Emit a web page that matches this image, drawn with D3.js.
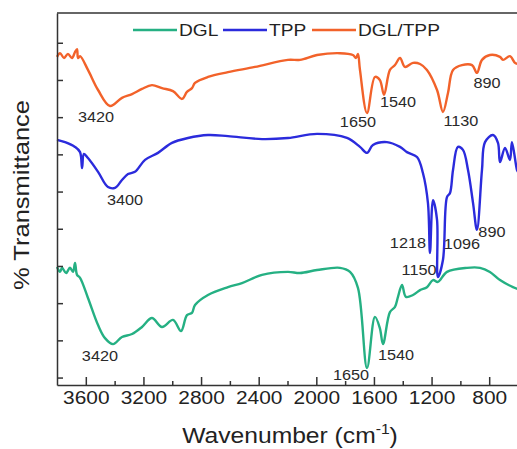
<!DOCTYPE html>
<html>
<head>
<meta charset="utf-8">
<script src="https://cdn.jsdelivr.net/npm/d3@7"></script>
<style>
  body { margin: 0; background: #fff; }
  text { font-family: "Liberation Sans", Arial, sans-serif; }
</style>
</head>
<body>
<div id="container"></div>
<script>
// wavenumber (cm-1), relative transmittance (arbitrary, offset)
const dgl = [
  [3800,31.7],[3779,30.4],[3765,31.5],[3737,30.1],[3710,31.5],[3689,30.4],[3675,32.8],[3661,29.6],
  [3640,28.8],[3585,23.4],[3515,16.1],[3467,12.6],[3411,11.0],[3349,12.9],[3279,13.7],[3210,15.6],
  [3141,18.0],[3071,15.6],[2995,17.5],[2939,14.5],[2898,18.8],[2863,19.4],[2842,21.5],[2752,24.2],
  [2613,26.3],[2516,27.4],[2377,29.6],[2197,30.4],[2113,30.1],[1995,30.9],[1836,31.5],[1766,30.4],
  [1711,26.1],[1648,4.6],[1593,18.3],[1559,15.3],[1537,11.0],[1489,19.6],[1454,21.0],[1433,23.7],
  [1405,26.9],[1378,23.7],[1329,24.2],[1280,25.5],[1232,26.3],[1190,28.2],[1156,27.7],[1093,30.4],
  [954,31.5],[864,31.5],[795,30.4],[725,28.2],[635,26.3],[600,25.8]
];
const tpp = [
  [3800,65.9],[3744,65.3],[3675,64.0],[3640,62.6],[3626,58.3],[3613,62.1],[3585,61.0],[3515,57.3],
  [3446,53.2],[3397,53.0],[3349,55.1],[3307,56.7],[3259,57.3],[3189,60.5],[3099,62.4],[3002,65.1],
  [2891,66.4],[2752,67.2],[2613,66.9],[2377,66.1],[2197,66.4],[1995,67.5],[1787,66.4],[1697,64.0],
  [1648,62.4],[1607,64.5],[1510,65.3],[1419,64.0],[1371,62.6],[1301,61.3],[1260,57.0],[1225,48.9],
  [1211,35.5],[1190,49.7],[1162,44.4],[1156,29.0],[1121,33.6],[1093,50.5],[1072,51.6],[1051,57.8],
  [1017,64.0],[982,63.2],[947,57.8],[912,48.9],[885,41.7],[850,57.8],[829,65.3],[774,67.2],
  [739,65.1],[725,59.9],[690,63.7],[656,60.5],[642,65.3],[607,57.8],[600,57.3]
];
const dglTpp = [
  [3800,88.2],[3779,89.2],[3751,87.9],[3724,89.0],[3696,87.9],[3675,89.5],[3661,90.3],[3654,87.9],
  [3640,88.4],[3585,84.7],[3515,79.3],[3432,75.0],[3349,77.2],[3279,78.2],[3210,79.6],[3141,80.6],
  [3071,79.8],[2995,79.0],[2932,76.9],[2898,78.8],[2863,79.8],[2842,81.2],[2752,82.8],[2613,84.1],
  [2426,85.5],[2197,87.4],[2113,87.4],[1995,88.7],[1836,89.2],[1746,88.7],[1725,87.9],[1711,89.0],
  [1697,84.7],[1648,73.1],[1593,82.8],[1559,82.0],[1530,78.0],[1489,84.7],[1454,86.0],[1419,87.9],
  [1385,85.5],[1329,86.6],[1280,86.3],[1232,84.7],[1162,79.3],[1121,73.4],[1086,78.5],[1051,84.7],
  [989,86.0],[919,86.0],[885,83.9],[850,87.4],[795,88.7],[725,88.2],[704,87.4],[656,88.4],
  [621,86.6],[600,86.3]
];

const seriesNames = ['DGL', 'TPP', 'DGL/TPP'];
const seriesColors = ['#25b083', '#2b2bdc', '#f2622a'];

// peak labels: text, wavenumber, transmittance where the label sits
const peakLabels = [
  ['3420', 3529, 70.7, 2], ['1650', 1711, 69.4, 2], ['1540', 1433, 74.7, 2],
  ['1130', 996, 69.6, 2], ['890', 815, 79.8, 2],
  ['3400', 3328, 48.4, 1], ['1218', 1364, 36.8, 1], ['1096', 989, 36.6, 1],
  ['1150', 1287, 29.6, 1], ['890', 781, 39.8, 1],
  ['3420', 3502, 6.5, 0], ['1650', 1759, 1.3, 0], ['1540', 1447, 6.7, 0]
];

const xTickLabels = [3600, 3200, 2800, 2400, 2000, 1600, 1200, 800];
const xMinorTicks = [3400, 3000, 2600, 2200, 1800, 1400, 1000, 600];
const yTicks = [2, 12, 22, 32, 42, 52, 62, 72, 82, 92];

const width = 517;
const height = 449;
const margin = { top: 13, right: -1, bottom: 64, left: 57 };

const svg = d3.select('#container')
  .append('svg')
  .attr('width', width)
  .attr('height', height);

const x = d3.scaleLinear()
  .domain([3800, 600])
  .range([margin.left, width - margin.right]);

const y = d3.scaleLinear()
  .domain([0, 100])
  .range([height - margin.bottom, margin.top]);

const line = d3.line()
  .x(d => x(d[0]))
  .y(d => y(d[1]))
  .curve(d3.curveCatmullRom.alpha(0.5));

const plot = svg.append('g');
[dgl, tpp, dglTpp].forEach((s, i) => {
  plot.append('path')
    .datum(s)
    .attr('fill', 'none')
    .attr('stroke', seriesColors[i])
    .attr('stroke-width', 2.4)
    .attr('stroke-linejoin', 'round')
    .attr('d', line);
});

// peak labels
svg.append('g')
  .selectAll('text')
  .data(peakLabels)
  .join('text')
    .attr('class', 'wide')
    .attr('x', d => x(d[1]))
    .attr('y', d => y(d[2]))
    .attr('text-anchor', 'middle')
    .attr('font-size', '14px')
    .attr('fill', '#2a2a2a')
    .text(d => d[0]);

// axes
const xAxis = g => g
  .attr('transform', `translate(0,${height - margin.bottom})`)
  .call(d3.axisBottom(x).tickValues(xTickLabels).tickSizeInner(-8).tickSizeOuter(0).tickPadding(6).tickFormat(d3.format('d')))
  .call(g => g.selectAll('text').attr('class', 'wide').attr('font-size', '18px').attr('fill', '#222'));

const xMinor = g => g
  .attr('transform', `translate(0,${height - margin.bottom})`)
  .call(d3.axisBottom(x).tickValues(xMinorTicks).tickSizeInner(-4).tickSizeOuter(0).tickFormat(''))
  .call(g => g.select('.domain').remove());

const yAxis = g => g
  .attr('transform', `translate(${margin.left},0)`)
  .call(d3.axisLeft(y).tickValues(yTicks).tickSizeInner(-6).tickSizeOuter(0).tickFormat(''));

svg.append('g').call(xMinor);
svg.append('g').call(xAxis);
svg.append('g').call(yAxis);
svg.selectAll('.domain, .tick line').attr('stroke', '#333').attr('stroke-width', 1.5);

// top border
svg.append('line')
  .attr('x1', margin.left).attr('x2', width)
  .attr('y1', margin.top).attr('y2', margin.top)
  .attr('stroke', '#333').attr('stroke-width', 1.5);

// legend
const legendX = [133, 223, 312];
const legend = svg.append('g')
  .selectAll('g')
  .data(seriesNames)
  .join('g')
    .attr('transform', (d, i) => `translate(${legendX[i]},30)`);
legend.append('line')
  .attr('x1', 0).attr('x2', 44)
  .attr('stroke', (d, i) => seriesColors[i])
  .attr('stroke-width', 2.4);
legend.append('text')
  .attr('class', 'wide')
  .attr('x', 46).attr('y', 6)
  .attr('font-size', '16.5px')
  .attr('fill', '#222')
  .text(d => d);

// axis titles
const xt = svg.append('text')
  .attr('x', 290).attr('y', 443)
  .attr('text-anchor', 'middle')
  .attr('font-size', '22px')
  .attr('fill', '#222');
xt.append('tspan').text('Wavenumber (cm');
xt.append('tspan').attr('font-size', '14px').attr('dy', -9).text('-1');
xt.append('tspan').attr('dy', 9).text(')');
xt.attr('textLength', xt.node().getComputedTextLength() * 1.12).attr('lengthAdjust', 'spacingAndGlyphs');

svg.append('text')
  .attr('class', 'wide')
  .attr('transform', 'translate(29,195) rotate(-90)')
  .attr('text-anchor', 'middle')
  .attr('font-size', '22px')
  .attr('fill', '#222')
  .text('% Transmittance');

// the source figure is slightly stretched sideways
svg.selectAll('text.wide').each(function () {
  const len = this.getComputedTextLength();
  d3.select(this).attr('textLength', len * 1.16).attr('lengthAdjust', 'spacingAndGlyphs');
});
</script>
</body>
</html>
